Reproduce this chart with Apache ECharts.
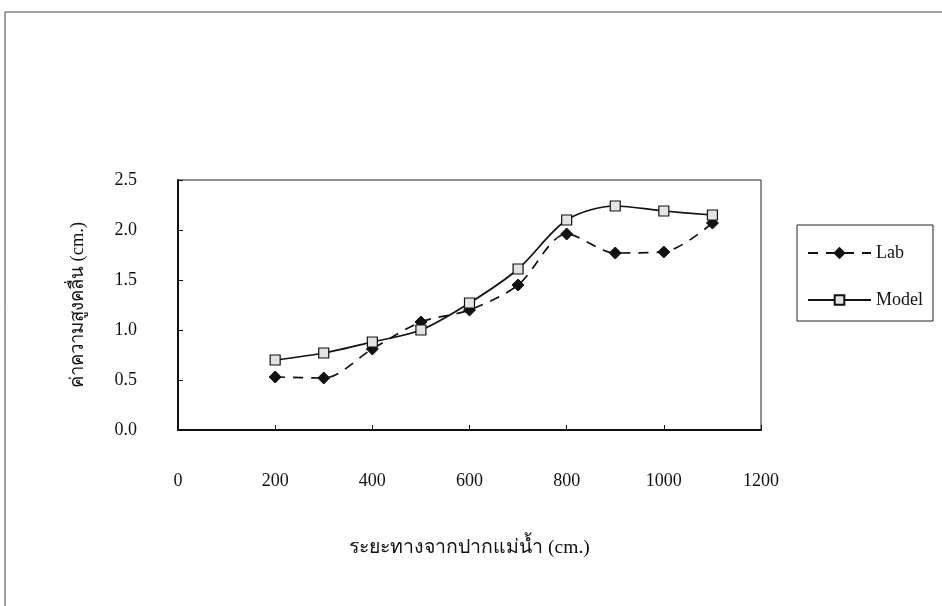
<!DOCTYPE html>
<html>
<head>
<meta charset="utf-8">
<script src="https://cdn.jsdelivr.net/npm/echarts@6/dist/echarts.min.js"></script>
<style>
  html, body { margin: 0; padding: 0; background: #fff; }
  #chart { width: 942px; height: 606px; }
</style>
</head>
<body>
<div id="chart"></div>
<script>
// Distance from the river mouth (cm.)
const distances = [200, 300, 400, 500, 600, 700, 800, 900, 1000, 1100];
// Wave height measured in the laboratory (cm.)
const labHeights = [0.53, 0.52, 0.81, 1.08, 1.20, 1.45, 1.96, 1.77, 1.78, 2.07];
// Wave height from the numerical model (cm.)
const modelHeights = [0.70, 0.77, 0.88, 1.00, 1.27, 1.61, 2.10, 2.24, 2.19, 2.15];

const seriesNames = ['Lab', 'Model'];
const xTitle = 'ระยะทางจากปากแม่น้ำ (cm.)';
const yTitle = 'ค่าความสูงคลื่น (cm.)';

const serif = '"Liberation Serif", "Times New Roman", serif';
const thai = '"Liberation Serif", "DejaVu Serif", "Noto Sans", serif';

const pairs = (xs, ys) => xs.map((x, i) => [x, ys[i]]);

const chart = echarts.init(document.getElementById('chart'), null, { renderer: 'canvas' });
chart.setOption({
  animation: false,
  backgroundColor: '#fff',
  graphic: [{
    type: 'rect',
    shape: { x: 5, y: 12, width: 940, height: 600 },
    style: { fill: 'none', stroke: '#444', lineWidth: 1 },
    silent: true
  }, {
    // thin top/right edges of the plotting area
    type: 'rect',
    shape: { x: 178, y: 180, width: 583, height: 250 },
    style: { fill: 'none', stroke: '#222', lineWidth: 1 },
    silent: true,
    z: -1
  }],
  grid: { left: 178, top: 180, width: 583, height: 250 },
  legend: {
    data: seriesNames,
    orient: 'vertical',
    left: 797,
    top: 225,
    padding: [19, 10, 12, 10],
    itemGap: 29,
    itemWidth: 63,
    itemHeight: 12,
    borderColor: '#222',
    borderWidth: 1,
    textStyle: { fontFamily: serif, fontSize: 18, color: '#111' }
  },
  xAxis: {
    type: 'value',
    min: 0, max: 1200, interval: 200,
    name: xTitle,
    nameLocation: 'middle',
    nameGap: 108,
    nameMoveOverlap: false,
    nameTextStyle: { fontFamily: thai, fontSize: 19.5, color: '#111' },
    axisLine: { show: true, lineStyle: { color: '#111', width: 2 } },
    axisTick: { show: true, inside: true, length: 5, lineStyle: { color: '#111', width: 1 } },
    axisLabel: { margin: 42, fontFamily: serif, fontSize: 18, color: '#111',
                 formatter: v => String(v) },
    splitLine: { show: false }
  },
  yAxis: {
    type: 'value',
    min: 0, max: 2.5, interval: 0.5,
    name: yTitle,
    nameLocation: 'middle',
    nameGap: 90,
    nameMoveOverlap: false,
    nameRotate: 90,
    nameTextStyle: { fontFamily: thai, fontSize: 18.5, color: '#111' },
    axisLine: { show: true, lineStyle: { color: '#111', width: 2 } },
    axisTick: { show: true, inside: true, length: 5, lineStyle: { color: '#111', width: 1 } },
    axisLabel: { margin: 41, fontFamily: serif, fontSize: 18, color: '#111',
                 formatter: v => v.toFixed(1) },
    splitLine: { show: false }
  },
  series: [{
    name: seriesNames[0],
    type: 'line',
    data: pairs(distances, labHeights),
    smooth: 0.3,
    symbol: 'diamond',
    symbolSize: 12,
    itemStyle: { color: '#111', borderColor: '#111', borderWidth: 1 },
    lineStyle: { color: '#111', width: 1.7, type: [10, 8] },
    z: 2
  }, {
    name: seriesNames[1],
    type: 'line',
    data: pairs(distances, modelHeights),
    smooth: 0.3,
    symbol: 'rect',
    symbolSize: 10,
    itemStyle: { color: '#e4e4e4', borderColor: '#111', borderWidth: 1.2 },
    lineStyle: { color: '#111', width: 1.7 },
    z: 3
  }]
});
</script>
</body>
</html>
